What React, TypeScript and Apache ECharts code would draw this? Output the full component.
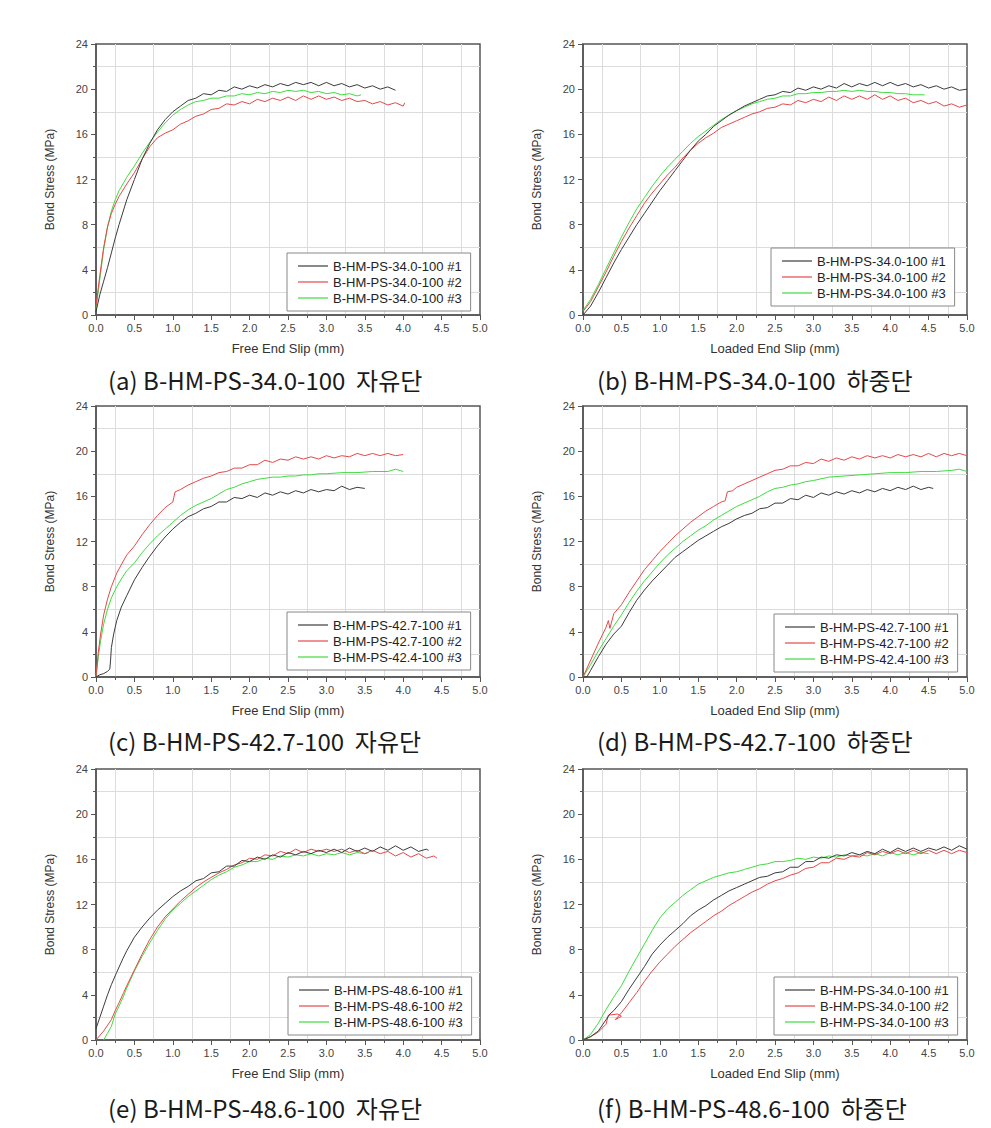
import React, { useEffect, useRef } from "react";
import * as echarts from "echarts";

// ---------- data (slip in mm, bond stress in MPa) ----------
const A1 = [[0,0.3],[0.05,1.8],[0.1,3.0],[0.15,4.2],[0.2,5.5],[0.25,6.8],[0.3,8.0],[0.4,10.2],[0.5,12.0],[0.6,13.8],[0.7,15.2],[0.8,16.4],[0.9,17.3],[1.0,18.0],[1.1,18.5],[1.2,19.0],[1.3,19.2],[1.4,19.6],[1.5,19.5],[1.6,19.9],[1.7,19.8],[1.8,20.2],[1.9,20.0],[2.0,20.3],[2.1,20.1],[2.2,20.4],[2.3,20.2],[2.4,20.5],[2.5,20.3],[2.6,20.6],[2.7,20.4],[2.8,20.6],[2.9,20.3],[3.0,20.6],[3.1,20.3],[3.2,20.5],[3.3,20.2],[3.4,20.4],[3.5,20.1],[3.6,20.3],[3.7,20.0],[3.8,20.2],[3.9,19.9]];
const A2 = [[0,0.8],[0.05,3.5],[0.1,6.0],[0.15,7.8],[0.2,9.0],[0.25,9.8],[0.3,10.5],[0.4,11.6],[0.5,12.6],[0.6,13.8],[0.7,14.9],[0.8,15.7],[0.9,16.1],[1.0,16.4],[1.1,16.9],[1.2,17.2],[1.3,17.6],[1.4,17.8],[1.5,18.2],[1.6,18.3],[1.7,18.7],[1.8,18.6],[1.9,18.9],[2.0,18.7],[2.1,19.1],[2.2,18.9],[2.3,19.2],[2.4,19.0],[2.5,19.3],[2.6,19.0],[2.7,19.4],[2.8,19.1],[2.9,19.4],[3.0,19.1],[3.1,19.3],[3.2,19.0],[3.3,19.2],[3.4,18.9],[3.5,19.0],[3.6,18.7],[3.7,18.9],[3.8,18.6],[3.9,18.8],[4.0,18.5],[4.02,18.8]];
const A3 = [[0,0.5],[0.05,3.2],[0.1,5.8],[0.15,7.8],[0.2,9.2],[0.25,10.2],[0.3,11.0],[0.4,12.2],[0.5,13.2],[0.6,14.3],[0.7,15.3],[0.8,16.2],[0.9,17.0],[1.0,17.7],[1.1,18.2],[1.2,18.6],[1.3,18.9],[1.4,19.0],[1.5,19.2],[1.6,19.2],[1.7,19.4],[1.8,19.4],[1.9,19.6],[2.0,19.5],[2.1,19.7],[2.2,19.6],[2.3,19.8],[2.4,19.7],[2.5,19.9],[2.6,19.8],[2.7,19.9],[2.8,19.7],[2.9,19.8],[3.0,19.6],[3.1,19.7],[3.2,19.5],[3.3,19.6],[3.4,19.4],[3.45,19.5]];

const B1 = [[0,0],[0.1,0.8],[0.2,2.0],[0.3,3.3],[0.4,4.6],[0.5,5.8],[0.6,6.9],[0.7,8.0],[0.8,9.0],[0.9,10.0],[1.0,11.0],[1.1,11.9],[1.2,12.8],[1.3,13.7],[1.4,14.6],[1.5,15.4],[1.6,16.0],[1.7,16.7],[1.8,17.2],[1.9,17.7],[2.0,18.1],[2.1,18.5],[2.2,18.8],[2.3,19.1],[2.4,19.4],[2.5,19.5],[2.6,19.8],[2.7,19.7],[2.8,20.1],[2.9,19.9],[3.0,20.2],[3.1,20.0],[3.2,20.3],[3.3,20.1],[3.4,20.5],[3.5,20.2],[3.6,20.5],[3.7,20.3],[3.8,20.6],[3.9,20.3],[4.0,20.6],[4.1,20.3],[4.2,20.5],[4.3,20.2],[4.4,20.4],[4.5,20.1],[4.6,20.3],[4.7,20.0],[4.8,20.2],[4.9,19.9],[5.0,20.0]];
const B2 = [[0,0.3],[0.1,1.2],[0.2,2.5],[0.3,3.8],[0.4,5.2],[0.5,6.5],[0.6,7.7],[0.7,8.8],[0.8,9.9],[0.9,10.8],[1.0,11.6],[1.1,12.4],[1.2,13.1],[1.3,13.9],[1.4,14.6],[1.5,15.2],[1.6,15.7],[1.7,16.1],[1.8,16.6],[1.9,16.9],[2.0,17.2],[2.1,17.5],[2.2,17.8],[2.3,18.0],[2.4,18.3],[2.5,18.4],[2.6,18.7],[2.7,18.6],[2.8,19.0],[2.9,18.8],[3.0,19.1],[3.1,18.9],[3.2,19.3],[3.3,19.0],[3.4,19.4],[3.5,19.1],[3.6,19.4],[3.7,19.1],[3.8,19.5],[3.9,19.1],[4.0,19.4],[4.1,19.0],[4.2,19.2],[4.3,18.8],[4.4,19.0],[4.5,18.7],[4.6,18.9],[4.7,18.5],[4.8,18.7],[4.9,18.4],[5.0,18.6]];
const B3 = [[0,0.4],[0.1,1.4],[0.2,2.7],[0.3,4.1],[0.4,5.5],[0.5,6.9],[0.6,8.2],[0.7,9.4],[0.8,10.4],[0.9,11.4],[1.0,12.3],[1.1,13.1],[1.2,13.8],[1.3,14.5],[1.4,15.2],[1.5,15.8],[1.6,16.3],[1.7,16.8],[1.8,17.3],[1.9,17.7],[2.0,18.1],[2.1,18.4],[2.2,18.7],[2.3,18.9],[2.4,19.1],[2.5,19.2],[2.6,19.4],[2.7,19.4],[2.8,19.6],[2.9,19.6],[3.0,19.7],[3.1,19.7],[3.2,19.8],[3.3,19.8],[3.4,19.9],[3.5,19.8],[3.6,19.9],[3.7,19.8],[3.8,19.8],[3.9,19.7],[4.0,19.7],[4.1,19.6],[4.2,19.6],[4.3,19.5],[4.45,19.5]];

const C1 = [[0,0],[0.05,0.2],[0.1,0.3],[0.15,0.5],[0.18,0.7],[0.19,1.5],[0.2,2.6],[0.23,3.8],[0.27,5.0],[0.33,6.2],[0.4,7.2],[0.5,8.6],[0.6,9.7],[0.7,10.7],[0.8,11.6],[0.9,12.4],[1.0,13.1],[1.1,13.7],[1.2,14.2],[1.3,14.5],[1.4,14.9],[1.5,15.1],[1.6,15.5],[1.7,15.5],[1.8,15.9],[1.9,15.8],[2.0,16.1],[2.1,15.9],[2.2,16.3],[2.3,16.1],[2.4,16.4],[2.5,16.2],[2.6,16.5],[2.7,16.3],[2.8,16.6],[2.9,16.4],[3.0,16.6],[3.1,16.5],[3.2,16.9],[3.3,16.6],[3.4,16.8],[3.5,16.7]];
const C2 = [[0,0],[0.03,2.2],[0.06,3.8],[0.1,5.5],[0.15,6.9],[0.2,8.0],[0.27,9.2],[0.35,10.2],[0.4,10.8],[0.5,11.6],[0.6,12.6],[0.7,13.5],[0.8,14.3],[0.9,15.0],[1.0,15.5],[1.03,16.4],[1.1,16.6],[1.2,17.0],[1.3,17.3],[1.4,17.6],[1.5,17.8],[1.6,18.1],[1.7,18.2],[1.8,18.5],[1.9,18.5],[2.0,18.8],[2.1,18.8],[2.2,19.2],[2.3,19.0],[2.4,19.3],[2.5,19.2],[2.6,19.5],[2.7,19.3],[2.8,19.5],[2.9,19.3],[3.0,19.6],[3.1,19.4],[3.2,19.6],[3.3,19.5],[3.4,19.8],[3.5,19.6],[3.6,19.8],[3.7,19.6],[3.8,19.8],[3.9,19.6],[4.0,19.7]];
const C3 = [[0,0],[0.03,1.8],[0.06,3.2],[0.1,4.7],[0.15,6.0],[0.2,7.0],[0.27,8.0],[0.35,8.9],[0.4,9.4],[0.5,10.1],[0.6,11.0],[0.7,11.8],[0.8,12.5],[0.9,13.1],[1.0,13.7],[1.1,14.3],[1.2,14.8],[1.3,15.2],[1.4,15.5],[1.5,15.8],[1.6,16.2],[1.7,16.6],[1.8,16.8],[1.9,17.1],[2.0,17.3],[2.1,17.5],[2.2,17.6],[2.3,17.7],[2.4,17.7],[2.5,17.8],[2.6,17.8],[2.7,17.9],[2.8,17.9],[2.9,18.0],[3.0,18.0],[3.2,18.1],[3.4,18.1],[3.6,18.2],[3.8,18.2],[3.9,18.4],[4.0,18.2]];

const D1 = [[0,0],[0.05,0],[0.1,0.6],[0.2,1.8],[0.3,2.9],[0.4,3.8],[0.5,4.5],[0.6,5.7],[0.7,6.8],[0.8,7.7],[0.9,8.5],[1.0,9.2],[1.1,9.9],[1.2,10.6],[1.3,11.1],[1.4,11.6],[1.5,12.1],[1.6,12.5],[1.7,12.9],[1.8,13.3],[1.9,13.6],[2.0,14.0],[2.1,14.3],[2.2,14.5],[2.3,14.9],[2.4,15.0],[2.5,15.4],[2.6,15.4],[2.7,15.8],[2.8,15.7],[2.9,16.1],[3.0,15.9],[3.1,16.3],[3.2,16.1],[3.3,16.4],[3.4,16.2],[3.5,16.5],[3.6,16.3],[3.7,16.6],[3.8,16.4],[3.9,16.7],[4.0,16.5],[4.1,16.8],[4.2,16.6],[4.3,16.9],[4.4,16.6],[4.5,16.8],[4.56,16.7]];
const D2 = [[0,0],[0.1,1.5],[0.2,3.0],[0.3,4.4],[0.33,5.0],[0.35,4.3],[0.4,5.6],[0.5,6.4],[0.6,7.5],[0.7,8.5],[0.8,9.5],[0.9,10.3],[1.0,11.1],[1.1,11.8],[1.2,12.5],[1.3,13.1],[1.4,13.7],[1.5,14.2],[1.6,14.7],[1.7,15.1],[1.8,15.5],[1.85,15.6],[1.88,16.4],[1.95,16.5],[2.0,16.8],[2.1,17.1],[2.2,17.4],[2.3,17.7],[2.4,18.0],[2.5,18.3],[2.6,18.4],[2.7,18.7],[2.8,18.7],[2.9,19.0],[3.0,18.9],[3.1,19.3],[3.2,19.1],[3.3,19.4],[3.4,19.2],[3.5,19.5],[3.6,19.3],[3.7,19.6],[3.8,19.4],[3.9,19.6],[4.0,19.4],[4.1,19.7],[4.2,19.5],[4.3,19.7],[4.4,19.5],[4.5,19.8],[4.6,19.5],[4.7,19.8],[4.8,19.6],[4.9,19.8],[5.0,19.6]];
const D3 = [[0,0],[0.1,1.1],[0.2,2.3],[0.3,3.4],[0.4,4.5],[0.5,5.5],[0.6,6.6],[0.7,7.6],[0.8,8.5],[0.9,9.3],[1.0,10.1],[1.1,10.8],[1.2,11.4],[1.3,12.0],[1.4,12.5],[1.5,13.0],[1.6,13.4],[1.7,13.9],[1.8,14.3],[1.9,14.7],[2.0,15.1],[2.1,15.4],[2.2,15.7],[2.3,16.0],[2.4,16.4],[2.5,16.7],[2.6,16.8],[2.7,17.0],[2.8,17.1],[2.9,17.3],[3.0,17.4],[3.2,17.7],[3.4,17.8],[3.6,17.9],[3.8,18.0],[4.0,18.1],[4.2,18.1],[4.4,18.2],[4.6,18.2],[4.8,18.3],[4.9,18.4],[5.0,18.2]];

const E1 = [[0,1.0],[0.05,2.0],[0.1,3.0],[0.15,4.0],[0.2,4.9],[0.27,6.0],[0.35,7.2],[0.4,7.9],[0.5,9.1],[0.6,10.0],[0.7,10.8],[0.8,11.5],[0.9,12.1],[1.0,12.7],[1.1,13.2],[1.2,13.6],[1.3,14.1],[1.4,14.3],[1.5,14.8],[1.6,14.9],[1.7,15.4],[1.8,15.4],[1.9,15.9],[2.0,15.8],[2.1,16.2],[2.2,16.0],[2.3,16.4],[2.4,16.2],[2.5,16.6],[2.6,16.4],[2.7,16.7],[2.8,16.5],[2.9,16.8],[3.0,16.6],[3.1,16.9],[3.2,16.6],[3.3,17.0],[3.4,16.7],[3.5,17.0],[3.6,16.7],[3.7,17.1],[3.8,16.8],[3.9,17.2],[4.0,16.8],[4.1,17.1],[4.2,16.7],[4.3,16.9],[4.33,16.8]];
const E2 = [[0,0],[0.1,0.8],[0.2,1.8],[0.25,2.6],[0.3,3.3],[0.36,4.2],[0.4,4.8],[0.5,6.2],[0.6,7.6],[0.7,8.9],[0.8,10.0],[0.9,10.9],[1.0,11.6],[1.1,12.3],[1.2,12.9],[1.3,13.5],[1.4,14.0],[1.5,14.4],[1.6,14.8],[1.7,15.1],[1.8,15.5],[1.9,15.7],[2.0,16.1],[2.1,16.0],[2.2,16.4],[2.3,16.3],[2.4,16.7],[2.5,16.5],[2.6,16.9],[2.7,16.6],[2.8,16.9],[2.9,16.7],[3.0,16.9],[3.1,16.7],[3.2,16.9],[3.3,16.6],[3.4,16.8],[3.5,16.5],[3.6,16.8],[3.7,16.5],[3.8,16.7],[3.9,16.3],[4.0,16.6],[4.1,16.2],[4.2,16.5],[4.3,16.1],[4.4,16.3],[4.44,16.1]];
const E3 = [[0.1,0],[0.15,0.6],[0.2,1.2],[0.25,2.3],[0.3,3.0],[0.36,3.9],[0.4,4.6],[0.5,6.1],[0.6,7.4],[0.7,8.6],[0.8,9.7],[0.9,10.7],[1.0,11.5],[1.1,12.1],[1.2,12.7],[1.3,13.2],[1.4,13.7],[1.5,14.2],[1.6,14.6],[1.7,14.9],[1.8,15.3],[1.9,15.5],[2.0,15.8],[2.1,15.8],[2.2,16.1],[2.3,16.0],[2.4,16.3],[2.5,16.2],[2.6,16.4],[2.7,16.3],[2.8,16.5],[2.9,16.3],[3.0,16.5],[3.1,16.4],[3.2,16.6],[3.3,16.4],[3.4,16.6],[3.5,16.5],[3.55,16.6]];

const F1 = [[0,0],[0.1,0.3],[0.2,0.8],[0.3,1.8],[0.35,2.3],[0.4,2.6],[0.5,3.4],[0.6,4.5],[0.7,5.5],[0.8,6.5],[0.9,7.6],[1.0,8.4],[1.1,9.1],[1.2,9.7],[1.3,10.3],[1.4,11.0],[1.5,11.5],[1.6,11.9],[1.7,12.4],[1.8,12.8],[1.9,13.2],[2.0,13.5],[2.1,13.8],[2.2,14.1],[2.3,14.4],[2.4,14.5],[2.5,14.8],[2.6,14.9],[2.7,15.3],[2.8,15.3],[2.9,15.8],[3.0,15.8],[3.1,16.2],[3.2,16.1],[3.3,16.4],[3.4,16.3],[3.5,16.6],[3.6,16.4],[3.7,16.7],[3.8,16.5],[3.9,16.9],[4.0,16.6],[4.1,17.0],[4.2,16.7],[4.3,17.0],[4.4,16.7],[4.5,17.0],[4.6,16.8],[4.7,17.1],[4.8,16.8],[4.9,17.2],[5.0,16.9]];
const F2 = [[0,0],[0.1,0.3],[0.2,0.7],[0.3,1.4],[0.33,2.2],[0.45,2.3],[0.5,2.1],[0.42,1.8],[0.5,2.4],[0.6,3.3],[0.7,4.2],[0.8,5.2],[0.9,6.1],[1.0,6.9],[1.1,7.6],[1.2,8.3],[1.3,8.9],[1.4,9.5],[1.5,10.0],[1.6,10.5],[1.7,11.0],[1.8,11.4],[1.9,11.9],[2.0,12.3],[2.1,12.7],[2.2,13.1],[2.3,13.4],[2.4,13.8],[2.5,14.1],[2.6,14.3],[2.7,14.6],[2.8,14.8],[2.9,15.2],[3.0,15.3],[3.1,15.7],[3.2,15.7],[3.3,16.1],[3.4,16.0],[3.5,16.3],[3.6,16.2],[3.7,16.6],[3.8,16.4],[3.9,16.7],[4.0,16.5],[4.1,16.8],[4.2,16.5],[4.3,16.8],[4.4,16.5],[4.5,16.8],[4.6,16.5],[4.7,16.8],[4.8,16.5],[4.9,16.8],[5.0,16.6]];
const F3 = [[0,0],[0.1,0.5],[0.2,1.5],[0.3,2.7],[0.4,3.8],[0.5,4.8],[0.6,6.1],[0.7,7.3],[0.8,8.5],[0.9,9.7],[1.0,10.8],[1.1,11.6],[1.2,12.2],[1.3,12.8],[1.4,13.3],[1.5,13.8],[1.6,14.1],[1.7,14.4],[1.8,14.6],[1.9,14.8],[2.0,14.9],[2.1,15.1],[2.2,15.3],[2.3,15.5],[2.4,15.6],[2.5,15.8],[2.6,15.8],[2.7,15.9],[2.8,16.1],[2.9,16.0],[3.0,16.2],[3.1,16.1],[3.2,16.3],[3.3,16.2],[3.4,16.4],[3.5,16.3],[3.6,16.4],[3.7,16.3],[3.8,16.5],[3.9,16.3],[4.0,16.6],[4.1,16.4],[4.2,16.6],[4.3,16.4],[4.4,16.6],[4.5,16.5]];

const NAMES_340 = ["B-HM-PS-34.0-100 #1", "B-HM-PS-34.0-100 #2", "B-HM-PS-34.0-100 #3"];
const NAMES_427 = ["B-HM-PS-42.7-100 #1", "B-HM-PS-42.7-100 #2", "B-HM-PS-42.4-100 #3"];
const NAMES_486 = ["B-HM-PS-48.6-100 #1", "B-HM-PS-48.6-100 #2", "B-HM-PS-48.6-100 #3"];

const X_FREE = "Free End Slip (mm)";
const X_LOADED = "Loaded End Slip (mm)";
const Y_NAME = "Bond Stress (MPa)";

const CAPTIONS = [
  "(a) B-HM-PS-34.0-100  자유단",
  "(b) B-HM-PS-34.0-100  하중단",
  "(c) B-HM-PS-42.7-100  자유단",
  "(d) B-HM-PS-42.7-100  하중단",
  "(e) B-HM-PS-48.6-100  자유단",
  "(f) B-HM-PS-48.6-100  하중단",
];

const PANELS = [
  { data: [A1, A2, A3], names: NAMES_340, xName: X_FREE },
  { data: [B1, B2, B3], names: NAMES_340, xName: X_LOADED },
  { data: [C1, C2, C3], names: NAMES_427, xName: X_FREE },
  { data: [D1, D2, D3], names: NAMES_427, xName: X_LOADED },
  { data: [E1, E2, E3], names: NAMES_486, xName: X_FREE },
  { data: [F1, F2, F3], names: NAMES_340, xName: X_LOADED },
];

// ---------- layout / style ----------
const COLORS = ["#3c3c3c", "#e5484a", "#3fdc3f"];
const GRID_POS = [
  { left: 96, top: 44 }, { left: 583, top: 44 },
  { left: 96, top: 406 }, { left: 583, top: 406 },
  { left: 96, top: 769 }, { left: 583, top: 769 },
];
const LEGEND_POS = [
  { left: 287, top: 253 }, { left: 771, top: 248 },
  { left: 287, top: 612 }, { left: 774, top: 614 },
  { left: 288, top: 977 }, { left: 774, top: 977 },
];
const CAPTION_POS = [
  { x: 108, y: 379 }, { x: 597, y: 379 },
  { x: 108, y: 740 }, { x: 597, y: 740 },
  { x: 108, y: 1107 }, { x: 597, y: 1107 },
];
const FONT = "'Liberation Sans', Arial, sans-serif";
const AXIS_COLOR = "#555";

export default function App() {
  const ref = useRef<HTMLDivElement>(null);

  useEffect(() => {
    if (!ref.current) return;
    const chart = echarts.init(ref.current, null, { renderer: "svg" });

    const grid = GRID_POS.map((p) => ({
      left: p.left, top: p.top, width: 384, height: 271,
      show: true, borderColor: AXIS_COLOR, borderWidth: 1.5, backgroundColor: "#fff",
    }));

    const xAxis = PANELS.map((p, i) => ({
      type: "value", gridIndex: i, min: 0, max: 5, interval: 0.5,
      name: p.xName, nameLocation: "middle", nameGap: 27,
      nameTextStyle: { fontFamily: FONT, fontSize: 13, color: "#333" },
      axisLine: { show: true, lineStyle: { color: AXIS_COLOR, width: 1.5 } },
      axisTick: { show: true, length: 5, lineStyle: { color: AXIS_COLOR } },
      minorTick: { show: true, splitNumber: 2, length: 3, lineStyle: { color: AXIS_COLOR } },
      splitLine: { show: false },
      minorSplitLine: { show: true, lineStyle: { color: "#dcdcdc", width: 1 } },
      axisLabel: { fontFamily: FONT, fontSize: 11, color: "#444", margin: 7, formatter: (v: number) => v.toFixed(1) },
    }));

    const yAxis = PANELS.map((_, i) => ({
      type: "value", gridIndex: i, min: 0, max: 24, interval: 4,
      name: Y_NAME, nameLocation: "middle", nameGap: 40,
      nameTextStyle: { fontFamily: FONT, fontSize: 12, color: "#333" },
      axisLine: { show: true, lineStyle: { color: AXIS_COLOR, width: 1.5 } },
      axisTick: { show: true, length: 5, lineStyle: { color: AXIS_COLOR } },
      minorTick: { show: true, splitNumber: 2, length: 3, lineStyle: { color: AXIS_COLOR } },
      splitLine: { show: false },
      minorSplitLine: { show: true, lineStyle: { color: "#dcdcdc", width: 1 } },
      axisLabel: { fontFamily: FONT, fontSize: 11, color: "#444", margin: 8 },
    }));

    const series: any[] = [];
    PANELS.forEach((p, i) => {
      p.data.forEach((d, k) => {
        series.push({
          type: "line", name: p.names[k], xAxisIndex: i, yAxisIndex: i,
          data: d, symbol: "none", showSymbol: false, smooth: false,
          color: COLORS[k],
          lineStyle: { color: COLORS[k], width: 1 },
          z: 3 - k,
        });
      });
    });

    const legend = PANELS.map((p, i) => ({
      left: LEGEND_POS[i].left, top: LEGEND_POS[i].top,
      orient: "vertical",
      data: p.names.map((n) => ({ name: n, icon: "rect" })),
      backgroundColor: "#fff", borderColor: "#888", borderWidth: 1,
      padding: [6, 9, 6, 11], itemGap: 2, itemWidth: 30, itemHeight: 1.2,
      selectedMode: false,
      textStyle: { fontFamily: FONT, fontSize: 13, color: "#222", lineHeight: 14 },
    }));

    const graphic = CAPTIONS.map((t, i) => ({
      type: "text", x: CAPTION_POS[i].x, y: CAPTION_POS[i].y,
      style: {
        text: t, fill: "#1a1a1a",
        font: "24px 'Noto Sans CJK KR', sans-serif",
        verticalAlign: "middle", align: "left",
      },
    }));

    chart.setOption({
      animation: false,
      backgroundColor: "#fff",
      grid, xAxis, yAxis, legend, series, graphic,
    });

    return () => chart.dispose();
  }, []);

  return (
    <div
      ref={ref}
      style={{ position: "fixed", left: 0, top: 0, width: 991, height: 1128, background: "#fff" }}
    />
  );
}
